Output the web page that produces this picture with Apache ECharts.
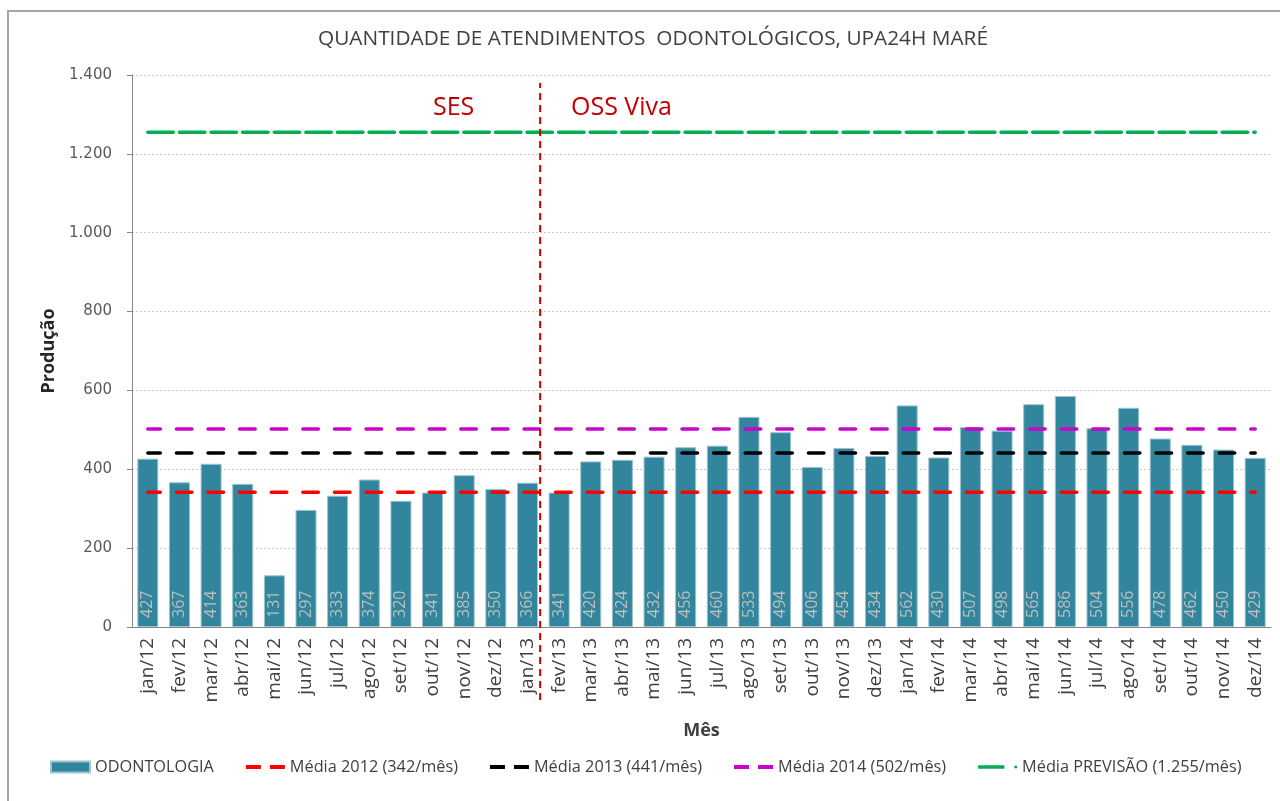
<!DOCTYPE html>
<html>
<head>
<meta charset="utf-8">
<script src="https://cdn.jsdelivr.net/npm/echarts@6/dist/echarts.min.js"></script>
<style>
  html, body { margin: 0; padding: 0; background: #fff; }
  #chart { width: 1280px; height: 801px; }
</style>
</head>
<body>
<div id="chart"></div>
<script>
// meses
const meses = [
  'jan/12', 'fev/12', 'mar/12', 'abr/12', 'mai/12', 'jun/12', 'jul/12', 'ago/12', 'set/12', 'out/12', 'nov/12', 'dez/12',
  'jan/13', 'fev/13', 'mar/13', 'abr/13', 'mai/13', 'jun/13', 'jul/13', 'ago/13', 'set/13', 'out/13', 'nov/13', 'dez/13',
  'jan/14', 'fev/14', 'mar/14', 'abr/14', 'mai/14', 'jun/14', 'jul/14', 'ago/14', 'set/14', 'out/14', 'nov/14', 'dez/14'
];
// producao odontologia
const odontologia = [
  427, 367, 414, 363, 131, 297, 333, 374, 320, 341, 385, 350,
  366, 341, 420, 424, 432, 456, 460, 533, 494, 406, 454, 434,
  562, 430, 507, 498, 565, 586, 504, 556, 478, 462, 450, 429
];
// medias
const media2012 = 342;
const media2013 = 441;
const media2014 = 502;
const mediaPrevisao = 1255;
// troca SES -> OSS Viva (entre jan/13 e fev/13)
const trocaGestao = 12.9;
const yTicks = [0, 200, 400, 600, 800, 1000, 1200, 1400];

const fmt = v => String(v).replace(/\B(?=(\d{3})+(?!\d))/g, '.');
const flat = v => meses.map(() => v);

const font = '"Open Sans", "Liberation Sans", sans-serif';
const dashIcon = 'path://M0,0h15v4h-15z M24,0h15v4h-15z';
const dashDotIcon = 'path://M0,0h29v4h-29z M40,0.5h3v3h-3z';

const chart = echarts.init(document.getElementById('chart'));
chart.setOption({
  animation: false,
  textStyle: {fontFamily: font},
  title: {
    text: 'QUANTIDADE DE ATENDIMENTOS  ODONTOLÓGICOS, UPA24H MARÉ',
    left: 648, top: 24, textAlign: 'center',
    textStyle: {fontSize: 20.8, fontWeight: 'normal', color: '#404040', fontFamily: font}
  },
  graphic: [
    {type: 'rect', shape: {x: 8, y: 11, width: 1300, height: 820}, style: {fill: 'none', stroke: '#a6a6a6', lineWidth: 2}, silent: true},
    {type: 'text', x: 433, y: 108, style: {text: 'SES', fill: '#c00000', font: '25px ' + font, verticalAlign: 'middle'}},
    {type: 'text', x: 571, y: 108, style: {text: 'OSS Viva', fill: '#c00000', font: '25px ' + font, verticalAlign: 'middle'}}
  ],
  legend: {
    left: 45, top: 754, itemGap: 32, itemWidth: 39, itemHeight: 11,
    textStyle: {fontSize: 16.3, color: '#404040', fontFamily: font},
    data: [
      {name: 'ODONTOLOGIA', icon: 'rect'},
      {name: 'Média 2012 (342/mês)', icon: dashIcon},
      {name: 'Média 2013 (441/mês)', icon: dashIcon},
      {name: 'Média 2014 (502/mês)', icon: dashIcon},
      {name: 'Média PREVISÃO (1.255/mês)', icon: dashDotIcon}
    ]
  },
  grid: {left: 132, right: 9, top: 75, bottom: 174},
  xAxis: [{
    type: 'category', data: meses,
    name: 'Mês', nameLocation: 'middle', nameGap: 95,
    nameTextStyle: {fontSize: 18, fontWeight: 'bold', color: '#404040'},
    axisLine: {lineStyle: {color: '#868686'}},
    axisTick: {length: 5, lineStyle: {color: '#868686'}},
    axisLabel: {rotate: 90, fontSize: 19, color: '#404040', margin: 11}
  }, {
    type: 'value', min: 0, max: meses.length, show: false
  }],
  yAxis: {
    type: 'value', min: 0, max: 1400, interval: 200,
    name: 'Produção', nameLocation: 'middle', nameGap: 72,
    nameTextStyle: {fontSize: 18, fontWeight: 'bold', color: '#262626'},
    axisLine: {show: true, lineStyle: {color: '#868686'}},
    axisTick: {show: true, length: 5, lineStyle: {color: '#868686'}},
    axisLabel: {
      fontSize: 15, color: '#595959', margin: 20, fontFamily: '"DejaVu Sans", sans-serif',
      formatter: v => yTicks.includes(v) ? fmt(v) : ''
    },
    splitLine: {lineStyle: {color: '#c8c8c8', type: [2, 2]}}
  },
  series: [
    {
      name: 'ODONTOLOGIA', type: 'bar', data: odontologia, barWidth: 21,
      itemStyle: {color: '#31859c', borderColor: '#9cc3cf', borderWidth: 1},
      label: {
        show: true, position: 'insideBottom', rotate: 90, align: 'left', verticalAlign: 'middle',
        distance: 9, fontSize: 16, color: '#bfbfbf'
      }
    },
    {
      name: 'Média 2012 (342/mês)', type: 'line', data: flat(media2012), symbol: 'none',
      lineStyle: {color: '#ff0000', width: 3.5, type: [15.5, 16.1], dashOffset: 3, cap: 'round'}, itemStyle: {color: '#ff0000'}
    },
    {
      name: 'Média 2013 (441/mês)', type: 'line', data: flat(media2013), symbol: 'none',
      lineStyle: {color: '#000000', width: 3.5, type: [15.5, 16.1], dashOffset: 3, cap: 'round'}, itemStyle: {color: '#000000'}
    },
    {
      name: 'Média 2014 (502/mês)', type: 'line', data: flat(media2014), symbol: 'none',
      lineStyle: {color: '#cc00cc', width: 3.5, type: [15.5, 16.1], dashOffset: 3, cap: 'round'}, itemStyle: {color: '#cc00cc'}
    },
    {
      name: 'Média PREVISÃO (1.255/mês)', type: 'line', data: flat(mediaPrevisao), symbol: 'none',
      lineStyle: {color: '#00b050', width: 3.5, type: [25.5, 6.1], cap: 'round'}, itemStyle: {color: '#00b050'}
    },
    {
      type: 'line', xAxisIndex: 1, data: [[trocaGestao, -185], [trocaGestao, 1380]], symbol: 'none',
      clip: false, silent: true,
      lineStyle: {color: '#d00000', width: 2, type: [7, 5]}
    }
  ]
});
</script>
</body>
</html>
